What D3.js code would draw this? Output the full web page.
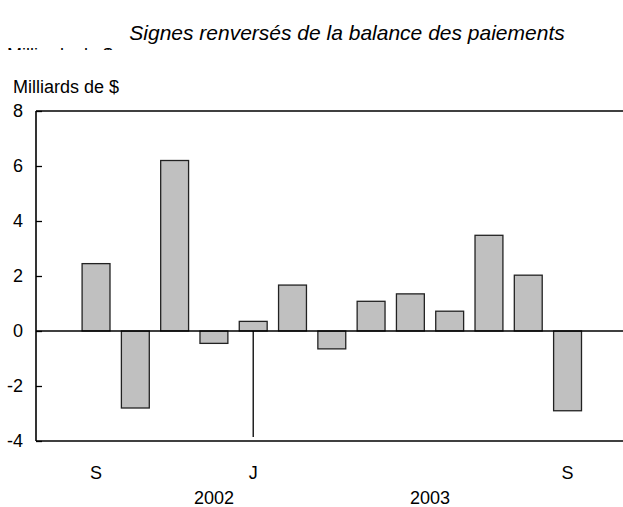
<!DOCTYPE html>
<html>
<head>
<meta charset="utf-8">
<script src="https://cdn.jsdelivr.net/npm/d3@7"></script>
<style>
  body { margin: 0; background: #fff; }
  text { font-family: "Liberation Sans", Arial, sans-serif; fill: #000; }
</style>
</head>
<body>
<div id="chart"></div>
<script>
// Data (milliards de $)
var months = ["S", "O", "N", "D", "J", "F", "M", "A", "M", "J", "J", "A", "S"];
var values = [2.45, -2.8, 6.2, -0.45, 0.35, 1.67, -0.65, 1.08, 1.35, 0.72, 3.48, 2.03, -2.9];
var shownMonths = [0, 4, 12];          // month labels that are printed
var yTicks = [-4, -2, 0, 2, 4, 6, 8];
var years = ["2002", "2003"];
var yearAt = [3, 8.5];                 // position of year label, in month slots

var svgWidth = 623;
var svgHeight = 507;

var plot = { left: 36, right: 623, top: 111, bottom: 441 };

var svg = d3.select("#chart")
  .append("svg")
  .attr("width", svgWidth)
  .attr("height", svgHeight);

// x: one slot per month
var xScale = d3.scaleBand()
  .domain(d3.range(months.length))
  .range([76.4, 587.2])
  .paddingInner(0.29)
  .paddingOuter(0.145);

var yScale = d3.scaleLinear()
  .domain([-4, 8])
  .range([plot.bottom, plot.top]);

var step = xScale.step();
function slotCenter(i) {
  return xScale(0) + xScale.bandwidth() / 2 + i * step;
}

// Title
svg.append("text")
  .attr("x", 347)
  .attr("y", 40)
  .attr("text-anchor", "middle")
  .attr("font-size", "21px")
  .style("font-style", "italic")
  .text("Signes renversés de la balance des paiements");

// clipped sliver of a subtitle line, as in the source
svg.append("clipPath")
  .attr("id", "sliver")
  .append("rect")
  .attr("x", 0).attr("y", 48).attr("width", 130).attr("height", 2);

svg.append("text")
  .attr("clip-path", "url(#sliver)")
  .attr("x", 7)
  .attr("y", 61)
  .attr("font-size", "18px")
  .text("Milliards de $");

// y axis label
svg.append("text")
  .attr("x", 13)
  .attr("y", 93)
  .attr("font-size", "18px")
  .text("Milliards de $");

// Bars
svg.append("g")
  .selectAll("rect")
  .data(values)
  .enter()
  .append("rect")
  .attr("x", (d, i) => xScale(i))
  .attr("width", xScale.bandwidth())
  .attr("y", d => yScale(Math.max(0, d)))
  .attr("height", d => Math.abs(yScale(d) - yScale(0)))
  .attr("fill", "#c0c0c0")
  .attr("stroke", "#222")
  .attr("stroke-width", 1.3);

// Zero line
svg.append("line")
  .attr("x1", plot.left).attr("x2", plot.right)
  .attr("y1", yScale(0)).attr("y2", yScale(0))
  .attr("stroke", "#000")
  .attr("stroke-width", 1.3);

// Year separator at J
svg.append("line")
  .attr("x1", slotCenter(4)).attr("x2", slotCenter(4))
  .attr("y1", yScale(0)).attr("y2", plot.bottom - 4)
  .attr("stroke", "#000")
  .attr("stroke-width", 1.3);

// Frame: top and bottom lines
[plot.top, plot.bottom].forEach(function(y) {
  svg.append("line")
    .attr("x1", plot.left).attr("x2", plot.right)
    .attr("y1", y).attr("y2", y)
    .attr("stroke", "#000")
    .attr("stroke-width", 1.6);
});

// Left axis with inward ticks
var leftAxis = d3.axisRight(yScale)
  .tickValues(yTicks)
  .tickSize(6)
  .tickFormat("");

var yAxisG = svg.append("g")
  .attr("transform", `translate(${plot.left}, 0)`)
  .call(leftAxis);
yAxisG.select(".domain").remove();
yAxisG.selectAll("line").attr("stroke", "#000").attr("stroke-width", 1.3);

svg.append("line")
  .attr("x1", plot.left).attr("x2", plot.left)
  .attr("y1", plot.top).attr("y2", plot.bottom)
  .attr("stroke", "#000")
  .attr("stroke-width", 1.6);

// y tick labels
svg.append("g")
  .selectAll("text")
  .data(yTicks)
  .enter()
  .append("text")
  .attr("x", 23)
  .attr("y", d => yScale(d))
  .attr("dy", "0.36em")
  .attr("text-anchor", "end")
  .attr("font-size", "18px")
  .text(d => d);

// month labels
svg.append("g")
  .selectAll("text")
  .data(shownMonths)
  .enter()
  .append("text")
  .attr("x", i => slotCenter(i))
  .attr("y", 479)
  .attr("text-anchor", "middle")
  .attr("font-size", "18px")
  .text(i => months[i]);

// year labels
svg.append("g")
  .selectAll("text")
  .data(years)
  .enter()
  .append("text")
  .attr("x", (d, i) => slotCenter(yearAt[i]))
  .attr("y", 504)
  .attr("text-anchor", "middle")
  .attr("font-size", "18px")
  .text(d => d);
</script>
</body>
</html>
